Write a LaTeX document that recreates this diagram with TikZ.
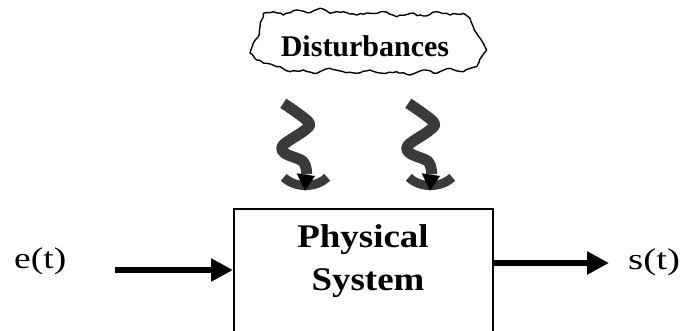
\documentclass[tikz,border=0pt]{standalone}
\usepackage{fontspec}
\setmainfont{Liberation Serif}
\usetikzlibrary{arrows.meta,decorations.pathmorphing}

\definecolor{squig}{HTML}{3A3A3A}

\tikzset{
  label/.style={inner sep=0pt, anchor=base},
  sig/.style={label, anchor=base west, font=\fontsize{30}{34}\selectfont},
  boxtxt/.style={label, font=\fontsize{33}{38}\selectfont\bfseries},
  flow/.style={line width=6.5pt, -{Triangle[length=22pt,width=22pt]}},
  cloudline/.style={draw, line width=1.4pt, line join=round,
    decorate, decoration={random steps, segment length=3.5pt, amplitude=0.9pt}},
  pics/wavearrow/.style={code={
    % wavy shaft
    \draw[squig, line width=11pt, line join=round]
      plot[smooth, tension=0.55] coordinates
        {(0,0) (25,18.4) (21.7,26.7) (0,41.7) (1.7,50) (20,58.4) (23.4,71)};
    % curved head band
    \draw[squig, line width=9pt]
      (0.5,74) .. controls (11.7,85) and (32.7,85) .. (43.9,74);
    % dark tip
    \fill[black] (13.4,70) -- (31.7,72.7) -- (21.7,87.5) -- cycle;
  }}
}

\begin{document}
\begin{tikzpicture}[x=1pt, y=-1pt]
  \useasboundingbox[fill=white] (0,0) rectangle (681,331);

  % disturbance cloud
  \pgfmathsetseed{7}
  \draw[cloudline]
    (263.3,13.3) -- (273.3,11.7) -- (283.3,15) -- (296.7,10) -- (310,12.7)
    -- (320,8.3) -- (330,13.3) -- (343.3,11.7) -- (356.7,15) -- (370,13.3)
    -- (383.3,11.7) -- (396.7,16.7) -- (410,13.3) -- (423.3,16) -- (436.7,11.7)
    -- (450,15) -- (463.3,13.3) -- (470,18.3) -- (473.3,26.7) -- (476.7,33.3)
    -- (483.3,43.3) -- (486.7,50) -- (481.7,56.7) -- (476.7,66.7) -- (463.3,71.7)
    -- (450,68.3) -- (436.7,73.3) -- (423.3,70) -- (410,75) -- (396.7,71.7)
    -- (383.3,73.3) -- (370,70) -- (356.7,73.3) -- (343.3,71.7) -- (330,68.3)
    -- (316.7,73.3) -- (303.3,70) -- (290,71.7) -- (280,66.7) -- (266.7,63.3)
    -- (256.7,60) -- (250,53.3) -- (253.3,43.3) -- (258.3,36.7) -- (260,26.7)
    -- (261.7,20) -- cycle;
  \node[label, font=\fontsize{30}{34}\selectfont\bfseries] (dist) at (365,57) {Disturbances};

  % disturbance arrows
  \pic (w1) at (283.3,103.3) {wavearrow};
  \pic (w2) at (408.3,103.3) {wavearrow};

  % system block (lower edge runs past the page)
  \node[draw, line width=2pt, inner sep=0pt, minimum width=259pt, minimum height=125pt]
    (sys) at (363.5,271.5) {};
  \node[boxtxt] (phys) at (363,248) {\scalebox{1.12}[1]{Physical}};
  \node[boxtxt] (syst) at (368,291) {\scalebox{1.12}[1]{System}};

  % input and output signals
  \node[sig] (e) at (14,269) {\scalebox{1.25}[1]{e(t)}};
  \node[sig] (s) at (628,270) {\scalebox{1.3}[1]{s(t)}};
  \coordinate (inStart) at (115,270);
  \coordinate (outEnd) at (609,263);
  \draw[flow] (inStart) -- (inStart -| sys.west);
  \draw[flow] (outEnd -| sys.east) -- (outEnd);
\end{tikzpicture}
\end{document}
